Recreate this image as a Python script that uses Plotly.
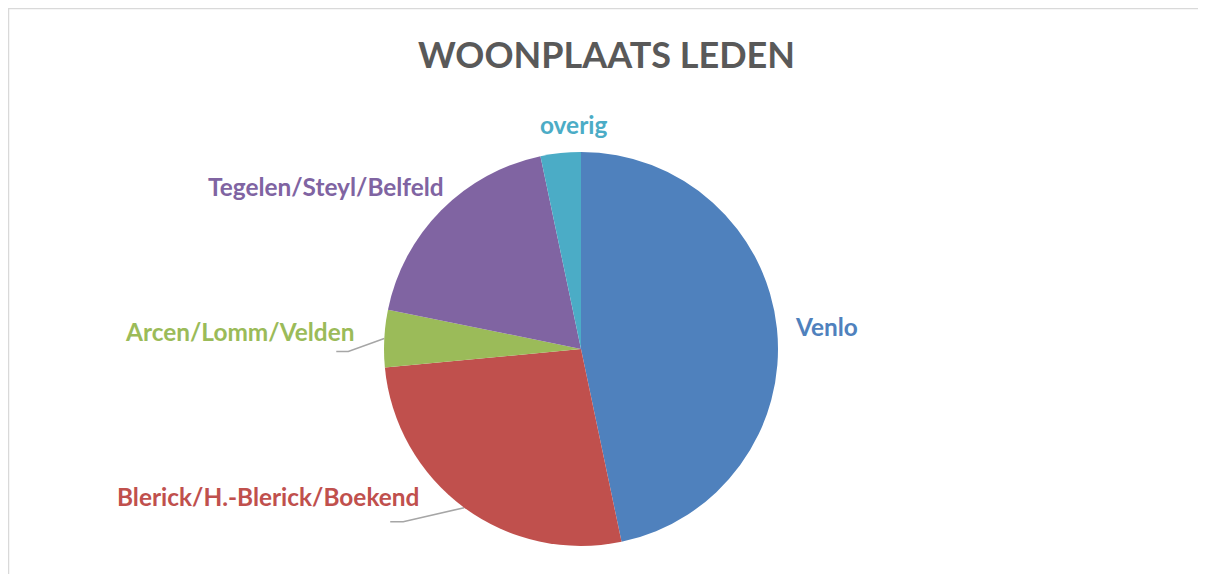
import numpy as np
import plotly.graph_objects as go

labels = ["Venlo", "Blerick/H.-Blerick/Boekend", "Arcen/Lomm/Velden", "Tegelen/Steyl/Belfeld", "overig"]
values = [46.7, 26.8, 4.7, 18.5, 3.3]
colors = ["#4F81BD", "#C0504D", "#9BBB59", "#8064A2", "#4BACC6"]

W, H = 1206, 574
OFF = 8  # page body margin
cx, cy, r = 581 - OFF, 349 - OFF, 197

# label placement (pixel offsets from the slice's outer mid-point): xanchor, xshift, yshift(down)
label_style = {
    "Venlo": ("left", 16, -2),
    "Blerick/H.-Blerick/Boekend": ("right", -43, -11),
    "Arcen/Lomm/Velden": ("right", -28, -7),
    "Tegelen/Steyl/Belfeld": ("right", 5, -24),
    "overig": ("center", 13, -29),
}
# leader lines: elbow and end offsets (pixels) from the slice's outer mid-point
leaders = {
    "Blerick/H.-Blerick/Boekend": [(-61, 14), (-74, 14)],
    "Arcen/Lomm/Velden": [(-36, 13), (-48, 13)],
}

fig = go.Figure()
fig.add_trace(go.Pie(
    labels=labels, values=values, sort=False, direction="clockwise", rotation=0,
    marker=dict(colors=colors, line=dict(color="white", width=0)),
    textinfo="none",
    domain=dict(x=[(cx - r) / W, (cx + r) / W], y=[(H - cy - r) / H, (H - cy + r) / H]),
    showlegend=False, hoverinfo="label+percent",
))

vals = np.array(values, dtype=float)
cum = np.cumsum(vals) / vals.sum() * 360.0
mid = cum - vals / vals.sum() * 360.0 / 2
annotations = []
for lab, col, a in zip(labels, colors, np.radians(mid)):
    ex, ey = cx + r * np.sin(a), cy - r * np.cos(a)
    xa, dx, dy = label_style[lab]
    annotations.append(dict(
        x=ex + dx, y=ey + dy, xref="x", yref="y", text=f"<b>{lab}</b>", showarrow=False,
        xanchor=xa, yanchor="middle", font=dict(family="Lato", size=24.4, color=col)))
    if lab in leaders:
        xs = [ex] + [ex + p[0] for p in leaders[lab]]
        ys = [ey] + [ey + p[1] for p in leaders[lab]]
        fig.add_trace(go.Scatter(x=xs, y=ys, mode="lines", line=dict(color="#A6A6A6", width=1.5),
                                 showlegend=False, hoverinfo="skip"))

fig.update_layout(
    width=W, height=H, margin=dict(l=0, r=0, t=0, b=0),
    paper_bgcolor="white", plot_bgcolor="rgba(0,0,0,0)",
    xaxis=dict(range=[0, W], visible=False, fixedrange=True),
    yaxis=dict(range=[H, 0], visible=False, fixedrange=True),
    annotations=annotations,
    title=dict(text="<b>WOONPLAATS LEDEN</b>", x=(606.5 - OFF) / W, xanchor="center",
               y=1 - (55 - OFF) / H, yanchor="middle",
               font=dict(family="Lato", size=36, color="#595959")),
    shapes=[dict(type="rect", xref="paper", yref="paper", x0=0, x1=1.02, y0=-0.02, y1=1,
                 line=dict(color="#D9D9D9", width=2.5), fillcolor="rgba(0,0,0,0)", layer="below")],
)
fig.write_html("out.html")
